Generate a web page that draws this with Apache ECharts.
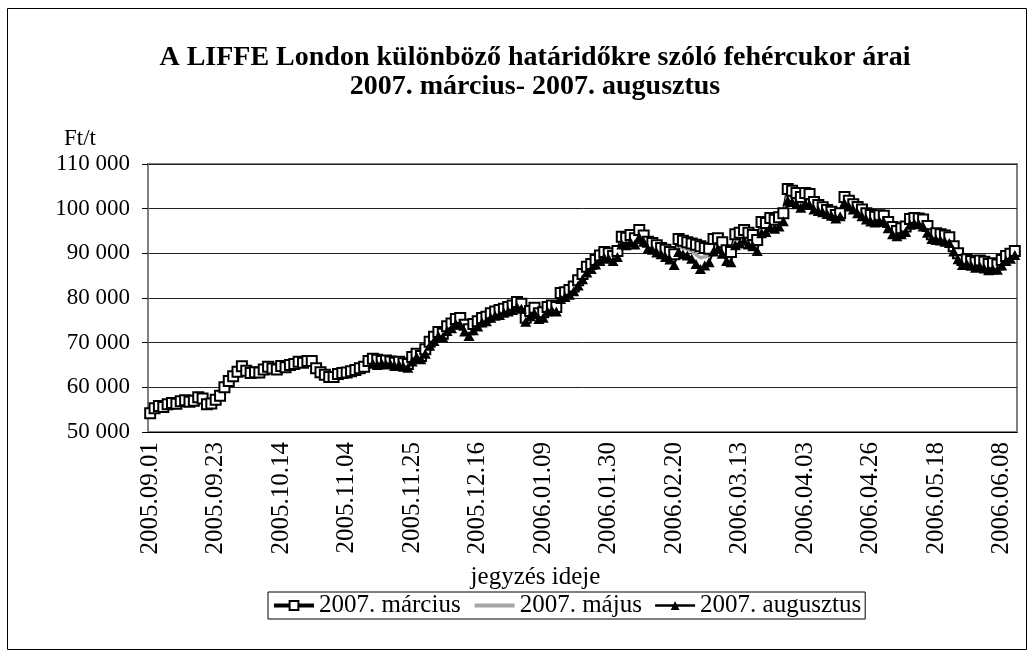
<!DOCTYPE html>
<html>
<head>
<meta charset="utf-8">
<script src="https://cdn.jsdelivr.net/npm/echarts@6/dist/echarts.min.js"></script>
<style>
html, body {margin:0; padding:0; background:#fff;}
#chart {width:1034px; height:655px;}
</style>
</head>
<body>
<div id="chart"></div>
<script>
/* Trading days, month by month (LIFFE closing days left out). */
var tradingDays = [
    ['2005.09', [1, 2, 5, 6, 7, 9, 12, 13, 14, 15, 16, 19, 20, 21, 22, 23, 26, 27, 28, 29, 30]],
    ['2005.10', [3, 4, 5, 6, 7, 10, 11, 12, 13, 14, 17, 18, 19, 20, 21, 24, 25, 26, 27, 28, 31]],
    ['2005.11', [1, 2, 3, 4, 7, 8, 9, 10, 11, 14, 15, 16, 17, 18, 21, 22, 23, 24, 25, 28, 29, 30]],
    ['2005.12', [1, 2, 5, 6, 7, 8, 9, 12, 13, 14, 15, 16, 19, 20, 21, 22, 23, 27, 28, 29, 30]],
    ['2006.01', [2, 3, 4, 5, 6, 9, 10, 11, 12, 13, 16, 17, 18, 19, 20, 23, 24, 25, 26, 27, 30, 31]],
    ['2006.02', [1, 2, 3, 6, 7, 8, 9, 10, 13, 14, 15, 16, 17, 20, 21, 22, 23, 24, 27, 28]],
    ['2006.03', [1, 2, 3, 6, 7, 8, 9, 10, 13, 14, 15, 16, 17, 20, 21, 22, 23, 24, 27, 28, 29, 30, 31]],
    ['2006.04', [3, 4, 5, 6, 7, 10, 11, 12, 13, 18, 19, 20, 21, 24, 25, 26, 27, 28]],
    ['2006.05', [2, 3, 4, 5, 8, 9, 10, 11, 12, 15, 16, 17, 18, 19, 22, 23, 24, 25, 26, 29, 30, 31]],
    ['2006.06', [1, 2, 5, 6, 7, 8, 9, 12, 13]]
];

var seriesNames = ['2007. március', '2007. május', '2007. augusztus'];

/* Ft/t, one value per trading day. */
var marciusValues = [
    54200, 55300, 55800, 55600, 56200, 56500, 56300, 56900, 57100, 56800, 57000,
    57800, 57500, 56200, 56400, 57200, 58100, 60000, 61400, 62500, 63500,
    64700, 63700, 63200, 63400, 63300, 64000, 64600, 64200, 64000, 64800,
    64500, 65000, 65200, 65700, 65500, 65900, 65900, 64300, 63400, 62800,
    62300, 62300, 63000, 63200, 63300, 63600, 63900, 64300, 64600, 65900,
    66400, 66200, 65900, 66000, 65800, 65500, 65700, 65400, 65200, 66800,
    67500, 67000, 68500, 70200, 71300, 72400, 72000, 73700, 74300, 75300,
    75500, 74000, 73000, 74200, 74800, 75500, 75800, 76600, 77000, 77300,
    77600, 78000, 78300, 79100, 78700, 75600, 77100, 77800, 76600, 76800,
    78000, 78300, 78000, 81100, 81300, 81800, 82600, 84000, 85400, 87000,
    87600, 88500, 89500, 90300, 90000, 89400, 90500, 93700, 93500, 94100,
    93400, 95200, 94000, 92600, 92300, 91800, 91200, 90800, 90300, 89800,
    93200, 92800, 92500, 92200, 91900, 91600, 91200, 91000, 93200, 93400,
    92500, 90700, 90300, 94300, 94600, 95200, 94600, 94100, 93000, 97000,
    96800, 97900, 97500, 98100, 99000, 104400, 104000, 103500, 102600, 103500,
    103300, 101500, 100800, 100300, 99700, 99300, 98600, 99000, 102600, 101800,
    101000, 100400, 99800, 99000, 98600, 98200, 98500, 98400, 97000, 95900,
    95000, 95600, 96000, 97700, 97900, 97800, 97600, 96100, 94300, 94500,
    94300, 94000, 93600, 91600, 90000, 88500, 88700, 88300, 88000, 88400,
    88100, 87600, 87800, 87500, 88500, 89400, 89900, 90500
];

/* The later contracts are quoted from 2005.11.14 on. */
var laterStart = 51;

var majusValues = [
    65800, 65600, 65600, 65500, 65500, 65100, 65300, 65000, 64800, 66300,
    67100, 66600, 68000, 69700, 70900, 71900, 71600, 73100, 73700, 74700,
    74700, 73200, 72200, 73500, 74200, 75000, 75300, 76100, 76500, 76700,
    77100, 77500, 77800, 78500, 78100, 75100, 76500, 77200, 75900, 76200,
    77500, 77700, 77500, 80400, 80700, 81200, 82000, 83400, 84800, 86300,
    87000, 88000, 88900, 89600, 89400, 88800, 89800, 92800, 92600, 93300,
    92700, 94400, 93300, 91800, 91500, 91000, 90500, 90000, 89400, 88600,
    91700, 91300, 91000, 90500, 89700, 89000, 89200, 89500, 91800, 92200,
    91200, 89500, 89100, 93000, 93400, 94000, 93300, 92800, 91700, 95700,
    95800, 96800, 96500, 97000, 98100, 103100, 102700, 102200, 101400, 102300,
    102000, 100600, 100100, 99700, 99200, 98800, 98200, 98600, 101900, 101100,
    100400, 99700, 99000, 98300, 97800, 97500, 97800, 97700, 96300, 95100,
    94400, 94900, 95400, 97000, 97300, 97100, 96800, 95300, 93700, 93700,
    93600, 93300, 92900, 91000, 89300, 87900, 88100, 87700, 87400, 87700,
    87300, 86900, 87100, 86900, 87900, 88800, 89300, 90000
];

var augusztusValues = [
    65300, 65000, 65400, 65100, 65200, 64800, 65000, 64600, 64400, 65800,
    66800, 66300, 67500, 69300, 70400, 71500, 71200, 72600, 73200, 74200,
    74000, 72500, 71500, 72800, 73600, 74500, 74800, 75600, 76000, 76200,
    76700, 77000, 77300, 78000, 77600, 74700, 75900, 76600, 75300, 75600,
    77000, 77200, 77000, 79800, 80200, 80700, 81500, 82800, 84200, 85700,
    86500, 87500, 88300, 89000, 88800, 88300, 89200, 92000, 91800, 92500,
    92000, 93600, 92600, 91000, 90800, 90200, 89800, 89200, 88600, 87400,
    90300, 89800, 89500, 88800, 87600, 86500, 87300, 88000, 90400, 91000,
    89900, 88300, 88000, 91800, 92200, 92800, 92000, 91600, 90500, 94500,
    94800, 95800, 95500, 96000, 97200, 101800, 101500, 101000, 100200, 101200,
    100800, 99800, 99500, 99200, 98800, 98400, 97800, 98300, 101200, 100500,
    99800, 99000, 98300, 97600, 97100, 96900, 97200, 97000, 95600, 94300,
    93800, 94300, 94800, 96400, 96700, 96500, 96000, 94600, 93200, 93000,
    92900, 92600, 92300, 90400, 88700, 87400, 87600, 87200, 86800, 87000,
    86600, 86200, 86400, 86300, 87300, 88300, 88800, 89600
];

var yMin = 50000;
var yMax = 110000;
var yStep = 10000;

function buildCategories(days)
{
    var list = [];
    days.forEach(function(month)
    {
        month[1].forEach(function(d)
        {
            list.push(month[0] + '.' + (d < 10 ? '0' + d : d));
        });
    });
    return list;
}

function padFront(values, count)
{
    var list = [];
    for(var i = 0; i < count; i++) list.push(null);
    return list.concat(values);
}

function formatThousands(value)
{
    return String(value).replace(/\B(?=(\d{3})+(?!\d))/g, ' ');
}

function drawSugarChart(id)
{
    var font     = 'Liberation Serif';
    var textSize = 25;
    var textStyle  = {color: '#000', fontFamily: font, fontSize: textSize};
    var yTextStyle = {color: '#000', fontFamily: font, fontSize: 23};

    var categories = buildCategories(tradingDays);

    var chart  = echarts.init(document.getElementById(id), null, {renderer: 'canvas'});
    var option = {
        animation: false,
        backgroundColor: '#fff',
        textStyle: {fontFamily: font, color: '#000'},
        title: {
            text: 'A LIFFE London különböző határidőkre szóló fehércukor árai\n2007. március- 2007. augusztus',
            left: 530,
            top: 38,
            textAlign: 'center',
            textStyle: {fontFamily: font, fontWeight: 'bold', fontSize: 28, lineHeight: 29, color: '#000'}
        },
        graphic: [{
            type: 'rect',
            silent: true,
            shape: {x: 7.5, y: 8.5, width: 1019, height: 641},
            style: {fill: 'none', stroke: '#000', lineWidth: 1}
        }],
        legend: {
            left: 268,
            top: 592,
            padding: [1, 4, 1, 4],
            itemGap: 12,
            itemWidth: 40,
            itemHeight: 11,
            borderColor: '#000',
            borderWidth: 1,
            textStyle: textStyle,
            data: [
                {name: seriesNames[0], lineStyle: {width: 4}},
                {name: seriesNames[1], lineStyle: {width: 4}, itemStyle: {opacity: 0}},
                {name: seriesNames[2], lineStyle: {width: 2.5}}
            ]
        },
        grid: {
            left: 148,
            right: 17,
            top: 164,
            bottom: 223,
            show: true,
            borderColor: '#808080',
            borderWidth: 2
        },
        xAxis: {
            type: 'category',
            data: categories,
            boundaryGap: true,
            name: 'jegyzés ideje',
            nameLocation: 'middle',
            nameGap: 133,
            nameTextStyle: Object.assign({padding: [0, 94, 0, 0]}, textStyle),
            axisLine: {lineStyle: {color: '#000', width: 1}},
            axisTick: {interval: 4, length: 6, lineStyle: {color: '#000'}},
            axisLabel: Object.assign({interval: 14, rotate: 90, margin: 10}, textStyle),
            splitLine: {show: false}
        },
        yAxis: {
            type: 'value',
            min: yMin,
            max: yMax,
            interval: yStep,
            name: 'Ft/t',
            nameLocation: 'end',
            nameGap: 14,
            nameTextStyle: Object.assign({align: 'right', padding: [0, 52, 0, 0]}, yTextStyle),
            axisLine: {show: true, lineStyle: {color: '#808080', width: 2}},
            axisTick: {show: true, length: 6, lineStyle: {color: '#000'}},
            axisLabel: Object.assign({margin: 18, formatter: formatThousands}, yTextStyle),
            splitLine: {show: true, lineStyle: {color: '#222', width: 1}}
        },
        series: [
            {
                name: seriesNames[0],
                type: 'line',
                data: marciusValues,
                symbol: 'rect',
                symbolSize: 10,
                showAllSymbol: true,
                lineStyle: {color: '#000', width: 3.5},
                itemStyle: {color: '#fff', borderColor: '#000', borderWidth: 2}
            },
            {
                name: seriesNames[1],
                type: 'line',
                data: padFront(majusValues, laterStart),
                symbol: 'none',
                lineStyle: {color: '#a6a6a6', width: 3.5},
                itemStyle: {color: '#a6a6a6'}
            },
            {
                name: seriesNames[2],
                type: 'line',
                data: padFront(augusztusValues, laterStart),
                symbol: 'triangle',
                symbolSize: [11, 10],
                showAllSymbol: true,
                lineStyle: {color: '#000', width: 2},
                itemStyle: {color: '#000', borderColor: '#000', borderWidth: 0}
            }
        ]
    };
    chart.setOption(option);

    return chart;
}

drawSugarChart('chart');
</script>
</body>
</html>
